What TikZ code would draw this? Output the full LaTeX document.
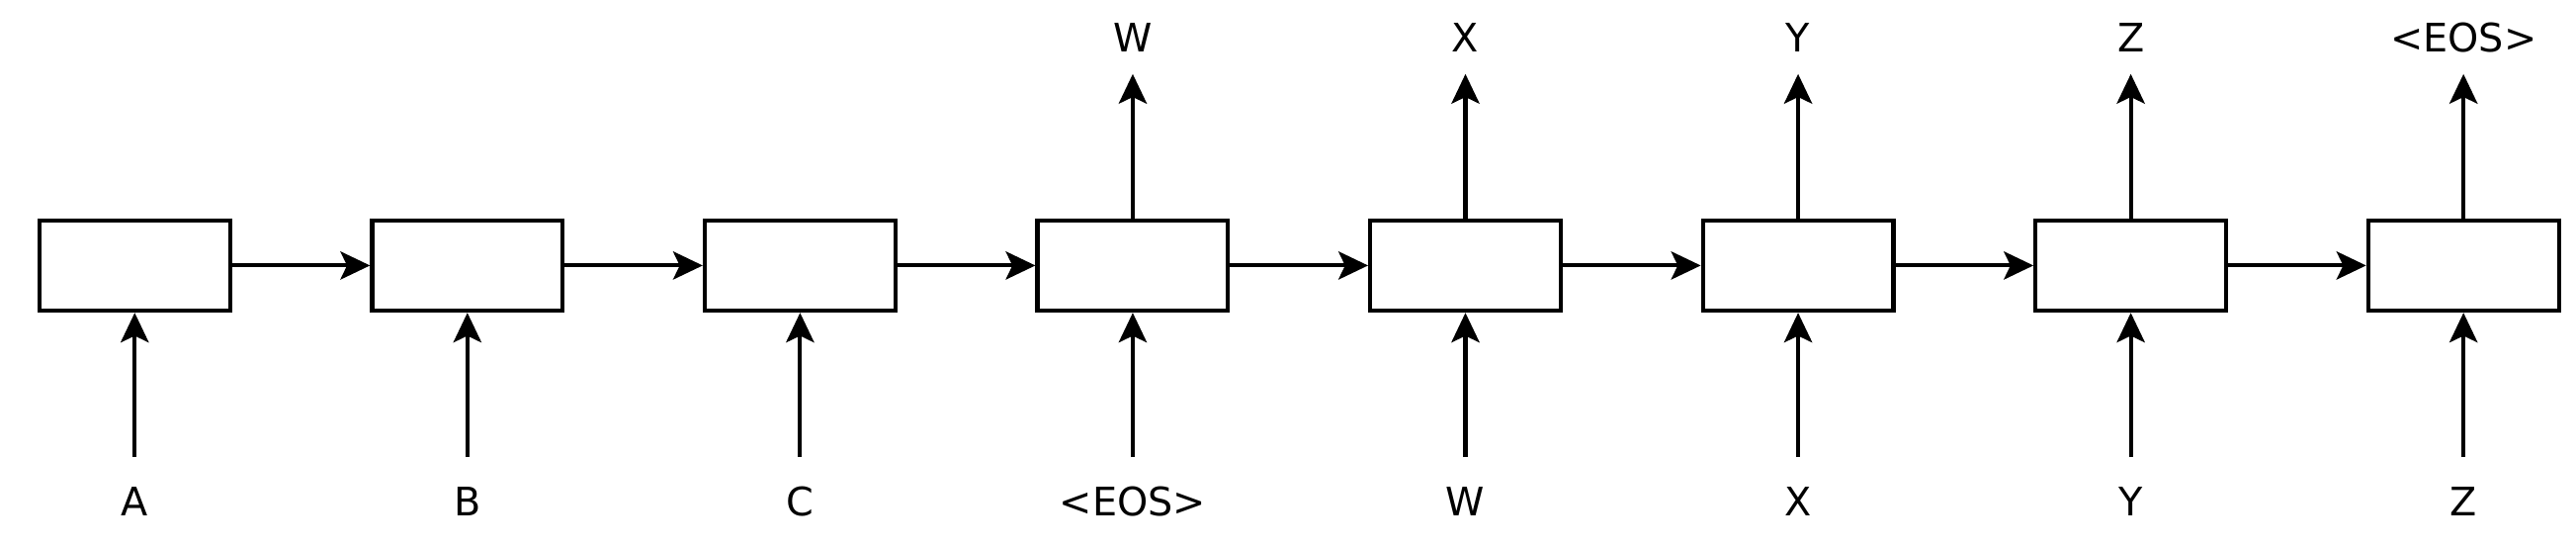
\documentclass[tikz,border=0pt]{standalone}
\usepackage{fontspec}
\setmainfont{DejaVu Sans}
\usetikzlibrary{arrows.meta}
\begin{document}
\begin{tikzpicture}[x=1bp,y=-1bp,
  cell/.style={draw,line width=2.5bp,minimum width=116bp,minimum height=55bp,inner sep=0},
  arr/.style={line width=2.5bp,-{Stealth[length=18bp,width=17bp,inset=4bp]}},
  lab/.style={font=\fontsize{24}{26}\selectfont,inner sep=0}]
\useasboundingbox (0,0) rectangle (1568,333);
\foreach \i/\inp/\out in {0/A/,1/B/,2/C/,3/<EOS>/W,4/W/X,5/X/Y,6/Y/Z,7/Z/<EOS>}{
  \pgfmathsetmacro\cx{82+202.5*\i}
  \node[cell] (c\i) at (\cx,161.5) {};
  \coordinate (b\i) at (\cx,278);
  \node[lab] (in\i) at (\cx,305) {\inp};
  \draw[arr] (b\i) -- (c\i.south);
  \ifnum\i>2
    \coordinate (t\i) at (\cx,45);
    \node[lab] (out\i) at (\cx,23) {\out};
    \draw[arr] (c\i.north) -- (t\i);
  \fi
}
\foreach \i [evaluate=\i as \j using int(\i+1)] in {0,...,6}{
  \draw[arr] (c\i.east) -- (c\j.west);
}
\end{tikzpicture}
\end{document}
